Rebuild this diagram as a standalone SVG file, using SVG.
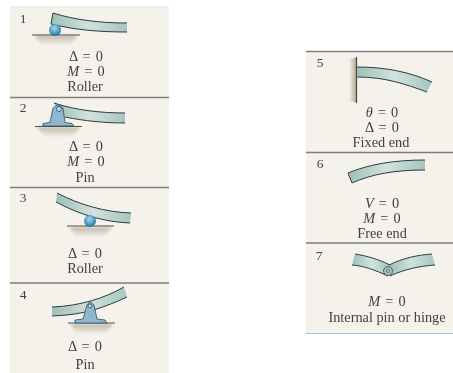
<svg xmlns="http://www.w3.org/2000/svg" width="453" height="373" viewBox="0 0 453 373">
<style>
text{font-family:"Liberation Serif","Times New Roman",serif;font-size:14.3px;fill:#3f3f3f;text-anchor:middle;filter:url(#txt)}
.n{font-size:13.5px}
.i{font-style:italic}
.q{word-spacing:1.5px}
.div{stroke:#807c78;stroke-width:1.3;fill:none}
.edge{stroke:#2f3a3a;stroke-width:1;fill:none}
.beam{fill:url(#bg);stroke:none}
.gl{stroke:#555;stroke-width:1;fill:none}
.sh{fill:url(#sg);stroke:none;filter:url(#shb)}
.metal{fill:#8fb8cf;stroke:#2f4a5a;stroke-width:.8}
</style>
<defs>
<linearGradient id="bg" x1="0" x2="1" y1="0" y2="0"><stop offset="0" stop-color="#9cc0b8"/><stop offset=".5" stop-color="#d2e2dc"/><stop offset="1" stop-color="#a5c6be"/></linearGradient>
<linearGradient id="sg" x1="0" x2="0" y1="0" y2="1"><stop offset="0" stop-color="#bdb8a4"/><stop offset="1" stop-color="#f5f2ec"/></linearGradient>
<linearGradient id="wg" x1="0" x2="1" y1="0" y2="0"><stop offset="0" stop-color="#f5f2ec"/><stop offset="1" stop-color="#b3ae98"/></linearGradient>
<radialGradient id="ball" cx=".45" cy=".35" r=".7"><stop offset="0" stop-color="#a8d8ee"/><stop offset=".7" stop-color="#3e8fb8"/><stop offset="1" stop-color="#23607f"/></radialGradient>
<filter id="soft" x="-10%" y="-10%" width="120%" height="120%"><feGaussianBlur stdDeviation=".45"/></filter>
<filter id="shb" x="-20%" y="-20%" width="140%" height="140%"><feGaussianBlur stdDeviation="1.500"/></filter>
<filter id="txt" x="-5%" y="-10%" width="110%" height="120%"><feGaussianBlur stdDeviation=".3"/></filter>
</defs>
<rect width="453" height="373" fill="#fff"/>
<rect x="10" y="7" width="159" height="366" fill="#f5f2ec"/>
<rect x="306" y="51" width="147" height="282" fill="#f5f2ec"/>
<g id="dividers" filter="url(#soft)">
<path d="M10 7H169" stroke="#e3e6e8" stroke-width="1" fill="none"/>
<path class="div" d="M10 97.500H169M10 187.500H169M10 283H169"/>
<path class="div" d="M306 51.500H453M306 152.500H453M306 243H453"/>
<path d="M306 333.500H453" stroke="#8ccbe6" stroke-width="1.200" fill="none"/>
</g>
<g id="node-1">
<g filter="url(#soft)">
<path class="sh" d="M34 35H78L70 45H42Z"/>
<path class="gl" d="M32 35H80"/>
<path class="beam" d="M53 13C75 20 100 23 127 23V32C100 32 75 30 51 24Z"/>
<path class="edge" d="M51 24L53 13C75 20 100 23 127 23M51 24C75 30 100 32 127 32"/>
<circle cx="55" cy="30" r="6" fill="url(#ball)"/>
</g>
<text class="n" x="23" y="23">1</text>
<text class="q" x="86" y="61">Δ = 0</text>
<text class="q" x="86" y="76"><tspan class="i">M</tspan> = 0</text>
<text x="85" y="91">Roller</text>
</g>
<g id="node-2">
<g filter="url(#soft)">
<path class="sh" d="M37 127H80L72 137H45Z"/>
<path class="beam" d="M54 103C75 110 100 113 125 113V123C100 122 80 121 60 115Z"/>
<path class="edge" d="M54 103C75 110 100 113 125 113M65 117C85 121 105 123 125 123"/>
<path class="gl" d="M35 126.500H82"/>
<path class="metal" d="M43 126V123.500L50 122.500L53 108L58 104.500L63 108L65 122.500L72 123.500L74 126Z"/>
<circle cx="59" cy="109" r="2.500" fill="#c8dce6" stroke="#2f4a5a" stroke-width=".8"/>
</g>
<text class="n" x="23" y="112">2</text>
<text class="q" x="86" y="151">Δ = 0</text>
<text class="q" x="86" y="166"><tspan class="i">M</tspan> = 0</text>
<text x="85" y="182">Pin</text>
</g>
<g id="node-3">
<g filter="url(#soft)">
<path class="sh" d="M69 227H112L104 237H77Z"/>
<path class="gl" d="M67 226H114"/>
<path class="beam" d="M57 193C80 205 105 212 131 213L130 223C105 222 80 215 56 202Z"/>
<path class="edge" d="M57 193C80 205 105 212 131 213M56 202C80 215 105 222 130 223"/>
<circle cx="90" cy="221" r="6" fill="url(#ball)"/>
</g>
<text class="n" x="23" y="202">3</text>
<text class="q" x="85" y="258">Δ = 0</text>
<text x="85" y="273">Roller</text>
</g>
<g id="node-4">
<g filter="url(#soft)">
<path class="sh" d="M70 324H113L105 334H78Z"/>
<path class="beam" d="M52 307C80 306 105 298 124 287L127 297C105 307 85 315 52 316Z"/>
<path class="edge" d="M52 307C80 306 105 298 124 287M52 316C85 315 105 307 127 297"/>
<path class="gl" d="M68 323H115"/>
<path class="metal" d="M75 323V320L83 319L87 305L90 301.500L94 305L97 319L105 320L107 323Z"/>
<circle cx="90" cy="306" r="2" fill="#c8dce6" stroke="#2f4a5a" stroke-width=".8"/>
</g>
<text class="n" x="23" y="299">4</text>
<text class="q" x="85" y="351">Δ = 0</text>
<text x="85" y="369">Pin</text>
</g>
<g id="node-5">
<g filter="url(#soft)">
<rect x="349" y="58" width="7" height="44" fill="url(#wg)"/>
<path d="M356.500 57V103" stroke="#4a4a44" stroke-width="1.200" fill="none"/>
<path class="beam" d="M357 67C385 67 410 72 432 82L427 92C405 84 385 77 357 77Z"/>
<path class="edge" d="M357 67C385 67 410 72 432 82M357 77C385 77 405 84 427 92"/>
</g>
<text class="n" x="320" y="67">5</text>
<text class="q" x="382" y="117"><tspan class="i">θ</tspan> = 0</text>
<text class="q" x="382" y="132">Δ = 0</text>
<text x="381" y="147">Fixed end</text>
</g>
<g id="node-6">
<g filter="url(#soft)">
<path class="beam" d="M348 173C370 164 395 160 425 160V170C395 170 372 174 352 183Z"/>
<path class="edge" d="M425 160C395 160 370 164 348 173L352 183C372 174 395 170 425 170"/>
</g>
<text class="n" x="320" y="168">6</text>
<text class="q" x="382" y="208"><tspan class="i">V</tspan> = 0</text>
<text class="q" x="382" y="223"><tspan class="i">M</tspan> = 0</text>
<text x="382" y="238">Free end</text>
</g>
<g id="node-7">
<g filter="url(#soft)">
<path class="beam" d="M355 254C367 256 378 259 390 265L388 276C375 270 364 266 352 265Z"/>
<path class="edge" d="M355 254C367 256 378 259 390 265M352 265C364 266 375 270 388 276"/>
<path class="beam" d="M389 265C403 258 418 255 432 254L435 265C420 266 405 269 390 276Z"/>
<path class="edge" d="M389 265C403 258 418 255 432 254M390 276C405 269 420 266 435 265"/>
<circle cx="388" cy="271" r="4.500" fill="#9fc0ba" stroke="#2f3a3a" stroke-width=".7"/>
<circle cx="388" cy="271" r="1.500" fill="#b9d2cc" stroke="#2f3a3a" stroke-width=".5"/>
</g>
<text class="n" x="319" y="260">7</text>
<text class="q" x="387" y="306"><tspan class="i">M</tspan> = 0</text>
<text x="387" y="322">Internal pin or hinge</text>
</g>
<g id="connectors"/>
</svg>
